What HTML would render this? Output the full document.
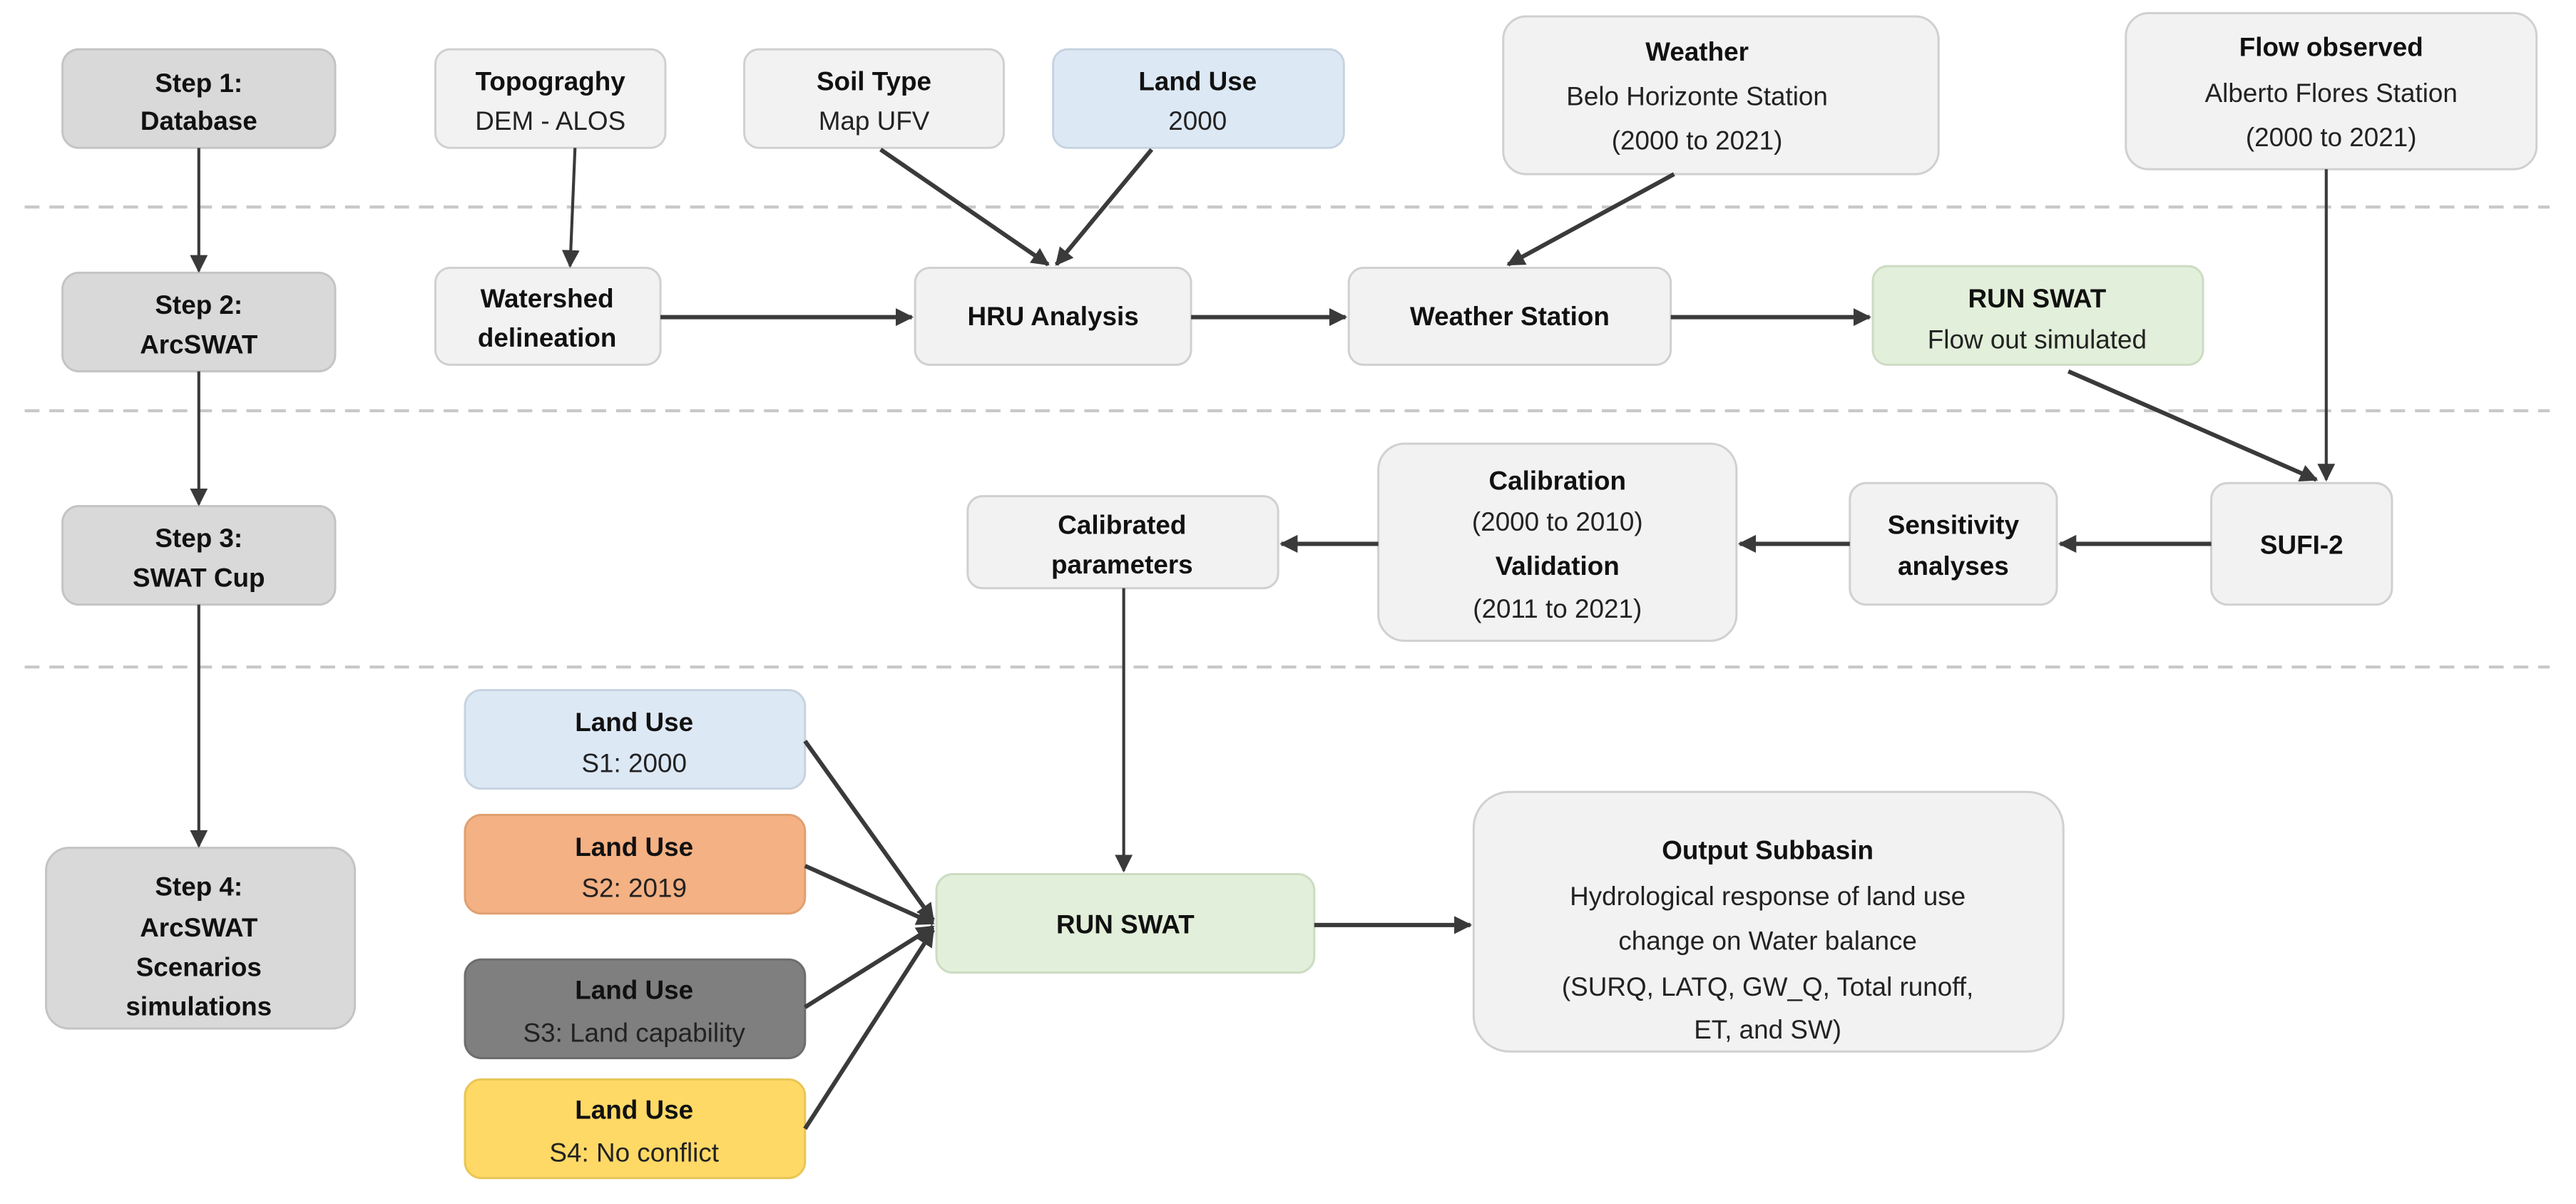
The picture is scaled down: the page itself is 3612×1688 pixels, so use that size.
<!DOCTYPE html>
<html><head><meta charset="utf-8"><style>
html,body{margin:0;padding:0;background:#fff;}
svg{display:block;}
text{font-family:"Liberation Sans Narrow","Liberation Sans",sans-serif;font-size:16px;fill:#111;text-anchor:middle;}
.b{font-weight:bold;}
.r{fill:#222;}
.n{fill:#f2f2f2;stroke:#d0d0d0;stroke-width:1.3;}
.s{fill:#d9d9d9;stroke:#c4c4c4;stroke-width:1.3;}
.l{stroke:#3a3a3a;stroke-width:2.6;fill:none;marker-end:url(#a);}
.t{stroke:#3a3a3a;stroke-width:1.8;fill:none;marker-end:url(#b);}
</style></head><body>
<svg width="3612" height="1688" viewBox="0 0 1568 732.8" xmlns="http://www.w3.org/2000/svg">
<defs>
<marker id="a" viewBox="0 0 10 10" refX="9" refY="5" markerWidth="4.2" markerHeight="4.2" orient="auto" markerUnits="strokeWidth"><path d="M0,0 L10,5 L0,10 z" fill="#3a3a3a"/></marker>
<marker id="b" viewBox="0 0 10 10" refX="9" refY="5" markerWidth="6" markerHeight="6" orient="auto" markerUnits="strokeWidth"><path d="M0,0 L10,5 L0,10 z" fill="#3a3a3a"/></marker>
</defs>
<rect width="1568" height="733" fill="#fff"/>
<g stroke="#c8c8c8" stroke-width="1.8" stroke-dasharray="9,6">
<line x1="15" y1="126" x2="1552" y2="126"/><line x1="15" y1="250" x2="1552" y2="250"/><line x1="15" y1="406" x2="1552" y2="406"/>
</g>
<rect class="s" x="38" y="30" width="166" height="60" rx="10"/><text class="b" x="121" y="56">Step 1:</text><text class="b" x="121" y="79">Database</text>
<rect class="s" x="38" y="166" width="166" height="60" rx="10"/><text class="b" x="121" y="191">Step 2:</text><text class="b" x="121" y="215">ArcSWAT</text>
<rect class="s" x="38" y="308" width="166" height="60" rx="10"/><text class="b" x="121" y="333">Step 3:</text><text class="b" x="121" y="357">SWAT Cup</text>
<rect class="s" x="28" y="516" width="188" height="110" rx="14"/><text class="b" x="121" y="545">Step 4:</text><text class="b" x="121" y="570">ArcSWAT</text><text class="b" x="121" y="594">Scenarios</text><text class="b" x="121" y="618">simulations</text>
<line class="t" x1="121" y1="90" x2="121" y2="165"/><line class="t" x1="121" y1="226" x2="121" y2="307"/><line class="t" x1="121" y1="368" x2="121" y2="515"/>
<rect class="n" x="265" y="30" width="140" height="60" rx="9"/><text class="b" x="335" y="55">Topograghy</text><text class="r" x="335" y="79">DEM - ALOS</text>
<rect class="n" x="453" y="30" width="158" height="60" rx="9"/><text class="b" x="532" y="55">Soil Type</text><text class="r" x="532" y="79">Map UFV</text>
<rect x="641" y="30" width="177" height="60" rx="9" fill="#dde8f5" stroke="#c7d3e0" stroke-width="1.3"/><text class="b" x="729" y="55">Land Use</text><text class="r" x="729" y="79">2000</text>
<rect class="n" x="915" y="10" width="265" height="96" rx="14"/><text class="b" x="1033" y="37">Weather</text><text class="r" x="1033" y="64">Belo Horizonte Station</text><text class="r" x="1033" y="91">(2000 to 2021)</text>
<rect class="n" x="1294" y="8" width="250" height="95" rx="14"/><text class="b" x="1419" y="34">Flow observed</text><text class="r" x="1419" y="62">Alberto Flores Station</text><text class="r" x="1419" y="89">(2000 to 2021)</text>
<rect class="n" x="265" y="163" width="137" height="59" rx="9"/><text class="b" x="333" y="187">Watershed</text><text class="b" x="333" y="211">delineation</text>
<rect class="n" x="557" y="163" width="168" height="59" rx="9"/><text class="b" x="641" y="198">HRU Analysis</text>
<rect class="n" x="821" y="163" width="196" height="59" rx="9"/><text class="b" x="919" y="198">Weather Station</text>
<rect x="1140" y="162" width="201" height="60" rx="9" fill="#e2efda" stroke="#ccdcc3" stroke-width="1.3"/><text class="b" x="1240" y="187">RUN SWAT</text><text class="r" x="1240" y="212">Flow out simulated</text>
<line class="t" x1="350" y1="90" x2="347" y2="162"/>
<line class="l" x1="536" y1="91" x2="638" y2="161"/>
<line class="l" x1="701" y1="91" x2="643" y2="161"/>
<line class="l" x1="402" y1="193" x2="555" y2="193"/>
<line class="l" x1="725" y1="193" x2="819" y2="193"/>
<line class="l" x1="1017" y1="193" x2="1138" y2="193"/>
<line class="l" x1="1019" y1="106" x2="918" y2="161"/>
<line class="t" x1="1416" y1="103" x2="1416" y2="292"/>
<line class="l" x1="1259" y1="226" x2="1410" y2="292"/>
<rect class="n" x="1346" y="294" width="110" height="74" rx="10"/><text class="b" x="1401" y="337">SUFI-2</text>
<rect class="n" x="1126" y="294" width="126" height="74" rx="10"/><text class="b" x="1189" y="325">Sensitivity</text><text class="b" x="1189" y="350">analyses</text>
<rect class="n" x="839" y="270" width="218" height="120" rx="16"/><text class="b" x="948" y="298">Calibration</text><text class="r" x="948" y="323">(2000 to 2010)</text><text class="b" x="948" y="350">Validation</text><text class="r" x="948" y="376">(2011 to 2021)</text>
<rect class="n" x="589" y="302" width="189" height="56" rx="9"/><text class="b" x="683" y="325">Calibrated</text><text class="b" x="683" y="349">parameters</text>
<line class="l" x1="1346" y1="331" x2="1254" y2="331"/>
<line class="l" x1="1126" y1="331" x2="1059" y2="331"/>
<line class="l" x1="839" y1="331" x2="780" y2="331"/>
<line class="t" x1="684" y1="358" x2="684" y2="530"/>
<rect x="283" y="420" width="207" height="60" rx="10" fill="#dde8f5" stroke="#c7d3e0" stroke-width="1.3"/><text class="b" x="386" y="445">Land Use</text><text class="r" x="386" y="470">S1: 2000</text>
<rect x="283" y="496" width="207" height="60" rx="10" fill="#f4b183" stroke="#e0a070" stroke-width="1.3"/><text class="b" x="386" y="521">Land Use</text><text class="r" x="386" y="546">S2: 2019</text>
<rect x="283" y="584" width="207" height="60" rx="10" fill="#7f7f7f" stroke="#6d6d6d" stroke-width="1.3"/><text class="b" x="386" y="608">Land Use</text><text x="386" y="634" style="fill:#222">S3: Land capability</text>
<rect x="283" y="657" width="207" height="60" rx="10" fill="#ffd966" stroke="#e8c655" stroke-width="1.3"/><text class="b" x="386" y="681">Land Use</text><text class="r" x="386" y="707">S4: No conflict</text>
<rect x="570" y="532" width="230" height="60" rx="10" fill="#e2efda" stroke="#ccdcc3" stroke-width="1.3"/><text class="b" x="685" y="568">RUN SWAT</text>
<rect class="n" x="897" y="482" width="359" height="158" rx="22"/>
<text class="b" x="1076" y="523">Output Subbasin</text><text class="r" x="1076" y="551">Hydrological response of land use</text><text class="r" x="1076" y="578">change on Water balance</text><text class="r" x="1076" y="606">(SURQ, LATQ, GW_Q, Total runoff,</text><text class="r" x="1076" y="632">ET, and SW)</text>
<line class="l" x1="490" y1="451" x2="568" y2="560"/>
<line class="l" x1="490" y1="527" x2="568" y2="562"/>
<line class="l" x1="490" y1="613" x2="568" y2="564"/>
<line class="l" x1="490" y1="687" x2="568" y2="566"/>
<line class="l" x1="800" y1="563" x2="895" y2="563"/>
</svg>
</body></html>
